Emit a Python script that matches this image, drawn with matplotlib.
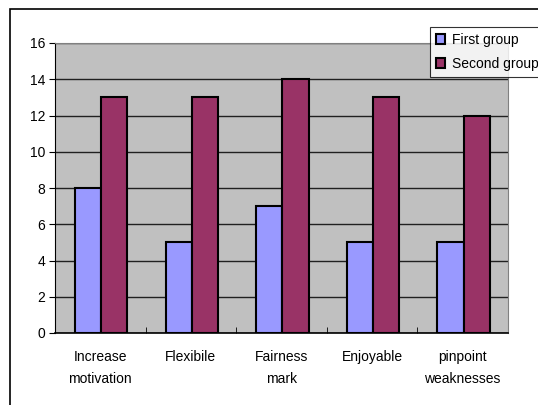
import numpy as np
import matplotlib.pyplot as plt
from matplotlib.patches import Rectangle

categories = ["Increase\nmotivation", "Flexibile", "Fairness\nmark", "Enjoyable", "pinpoint\nweaknesses"]
first_group = [8, 5, 7, 5, 5]
second_group = [13, 13, 14, 13, 12]

plt.rcParams['font.family'] = ['Liberation Sans', 'DejaVu Sans']
plt.rcParams['font.size'] = 10

W, H = 538, 405
fig = plt.figure(figsize=(W / 100, H / 100), dpi=100)
fig.patch.set_facecolor('white')

# outer chart frame, running off the right and bottom edges
fig.patches.append(Rectangle((10 / W, -0.1), 1.2, 1 - 9 / H + 0.1,
                             transform=fig.transFigure, fill=False,
                             edgecolor='black', lw=1.2, zorder=0))

ax = fig.add_axes([55 / W, 1 - 333 / H, (508 - 55) / W, (333 - 43) / H])
ax.set_facecolor('#C0C0C0')

x = np.arange(len(categories))
bw = 0.29
ax.bar(x - bw / 2 + 0.01, first_group, bw, color='#9999FF', edgecolor='black',
       lw=1.5, label='First group', zorder=3)
ax.bar(x + bw / 2 + 0.01, second_group, bw, color='#993366', edgecolor='black',
       lw=1.5, label='Second group', zorder=3)

ax.set_xlim(-0.5, len(categories) - 0.5)
ax.set_ylim(0, 16)
ax.set_yticks(range(0, 17, 2))
ax.yaxis.grid(True, color='#202020', lw=1.0, zorder=1)
ax.set_axisbelow(True)

# category labels centred, ticks between categories
ax.set_xticks(x)
ax.set_xticklabels(categories, linespacing=1.75, va='top')
ax.tick_params(axis='x', length=0, pad=12)
ax.set_xticks(np.arange(0.5, len(categories) - 0.5), minor=True)
ax.tick_params(axis='x', which='minor', direction='in', length=4, color='black')
ax.tick_params(axis='y', direction='out', length=4, pad=3)

for side in ['top', 'right']:
    ax.spines[side].set_color('#808080')
ax.spines['left'].set_color('black')
ax.spines['bottom'].set_color('black')
ax.spines['bottom'].set_linewidth(1.2)

leg = fig.legend(loc='upper left', bbox_to_anchor=(430 / W, 1 - 27 / H),
                 borderaxespad=0, frameon=True, fancybox=False, edgecolor='black',
                 handlelength=0.7, handleheight=0.7, handletextpad=0.5,
                 borderpad=0.4, labelspacing=0.75, fontsize=10)
leg.get_frame().set_linewidth(0.8)

fig.savefig('out.png', dpi=100)
